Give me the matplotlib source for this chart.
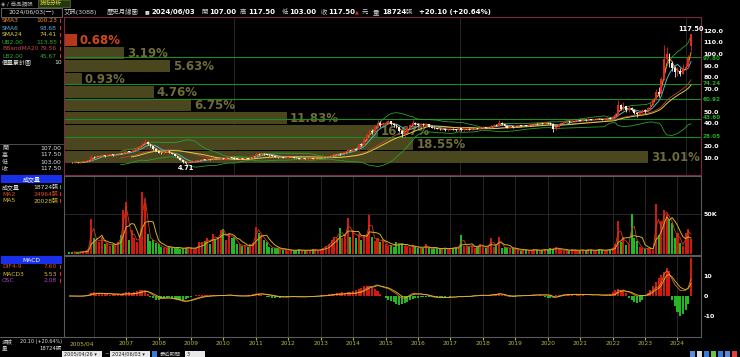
import numpy as np
import pandas as pd
import matplotlib
matplotlib.use("Agg")
import matplotlib.pyplot as plt
from matplotlib.patches import Rectangle

plt.rcParams['font.family'] = ['DejaVu Sans', 'Noto Sans CJK TC']

W, H = 740, 357

# ---- monthly data 2005/04 .. 2024/06 ----
closes = [
    6.2, 6.0, 6.1, 5.9, 6.0, 6.2, 6.8, 7.6, 10.8,                          # 2005
    10.4, 11.2, 11.6, 12.0, 11.4, 12.2, 12.8, 12.3, 13.0, 13.6, 13.2, 14.5,  # 2006
    15.5, 15.0, 16.0, 17.0, 18.5, 19.8, 22.5, 24.0, 21.5, 19.8, 17.5, 16.2,  # 2007
    14.5, 14.0, 15.0, 15.5, 14.2, 13.0, 11.5, 10.0, 8.2, 6.0, 5.2, 6.0,      # 2008
    6.5, 6.8, 7.5, 8.0, 8.5, 8.2, 8.8, 8.5, 9.0, 8.8, 9.2, 9.5,              # 2009
    9.3, 9.8, 10.5, 10.0, 9.2, 9.0, 9.4, 9.2, 9.6, 9.3, 10.0, 11.5,          # 2010
    13.5, 12.8, 13.6, 12.8, 12.5, 12.0, 11.8, 10.8, 10.2, 10.5, 9.8, 10.0,   # 2011
    10.2, 10.5, 10.0, 9.6, 9.2, 9.4, 9.0, 9.3, 9.5, 9.2, 9.4, 9.6,           # 2012
    9.8, 10.2, 10.5, 11.0, 12.0, 12.8, 13.5, 13.0, 14.0, 15.2, 16.5, 16.0,   # 2013
    17.5, 17.0, 21.5, 20.8, 26.0, 30.0, 33.5, 32.5, 37.0, 40.5, 38.0, 39.5,  # 2014
    40.0, 41.5, 39.0, 38.0, 36.5, 33.0, 31.0, 32.5, 36.0, 38.5, 40.5, 39.0,  # 2015
    38.5, 39.5, 38.0, 39.0, 37.0, 36.0, 35.5, 35.0, 34.5, 35.0, 34.0, 34.5,  # 2016
    35.0, 34.5, 34.0, 35.5, 33.8, 34.5, 35.0, 34.2, 35.0, 35.8, 35.2, 36.0,  # 2017
    36.5, 35.8, 36.2, 37.0, 38.5, 37.8, 40.5, 39.0, 37.5, 36.0, 37.0, 36.8,  # 2018
    37.5, 38.0, 37.6, 38.2, 37.8, 38.5, 39.0, 39.5, 39.2, 40.0, 39.6, 40.2,  # 2019
    40.0, 39.5, 34.5, 37.0, 39.5, 40.5, 41.0, 41.5, 41.0, 41.8, 42.0, 42.5,  # 2020
    42.2, 43.0, 42.5, 43.5, 42.8, 43.2, 44.0, 43.6, 43.0, 43.8, 44.5, 44.0,  # 2021
    45.0, 47.0, 55.5, 52.0, 54.5, 51.0, 53.0, 51.0, 49.0, 48.0, 50.0, 51.0,  # 2022
    50.5, 53.0, 57.0, 60.5, 67.0, 65.5, 78.0, 96.0, 100.0, 92.0, 88.0, 84.0, # 2023
    85.5, 83.0, 88.0, 89.0, 97.4, 117.5,                                     # 2024
]
highs = [
    6.6, 6.4, 6.4, 6.3, 6.3, 6.5, 7.2, 8.2, 12.5,
    11.8, 11.8, 12.3, 12.8, 12.6, 12.8, 13.5, 13.3, 13.6, 14.3, 14.0, 15.2,
    16.5, 16.2, 16.6, 17.8, 19.2, 20.8, 23.8, 26.0, 24.8, 22.3, 20.2, 18.0,
    16.5, 15.2, 15.6, 16.3, 15.8, 14.5, 13.2, 11.8, 10.2, 8.4, 6.3, 6.3,
    6.8, 7.2, 7.8, 8.4, 8.9, 8.9, 9.2, 9.1, 9.4, 9.3, 9.5, 9.9,
    9.9, 10.2, 11.2, 10.8, 10.2, 9.5, 9.7, 9.6, 9.9, 9.8, 10.4, 12.0,
    15.0, 14.2, 14.3, 14.0, 13.2, 12.8, 12.4, 12.0, 11.0, 11.0, 10.8, 10.4,
    10.6, 10.9, 10.7, 10.2, 9.8, 9.7, 9.6, 9.6, 9.8, 9.7, 9.6, 9.9,
    10.1, 10.5, 10.9, 11.4, 12.6, 13.5, 14.2, 13.9, 14.6, 16.0, 17.5, 17.0,
    18.5, 18.4, 22.5, 22.8, 27.0, 31.5, 35.0, 34.8, 38.5, 42.5, 41.5, 41.0,
    41.5, 43.0, 42.0, 40.0, 39.0, 37.5, 34.0, 33.5, 37.0, 39.5, 42.5, 41.0,
    40.0, 40.2, 40.0, 39.8, 39.5, 37.8, 36.8, 36.2, 35.6, 35.8, 35.4, 35.2,
    35.6, 35.5, 35.0, 36.2, 36.0, 35.0, 35.6, 35.5, 35.5, 36.4, 36.2, 36.6,
    37.2, 36.8, 36.8, 38.5, 39.2, 39.0, 42.5, 41.0, 39.5, 38.0, 37.6, 37.5,
    38.0, 38.5, 38.4, 38.8, 38.6, 39.0, 39.6, 40.2, 40.0, 40.5, 40.3, 40.8,
    41.0, 40.6, 40.0, 37.8, 40.2, 41.2, 41.8, 42.2, 42.0, 42.4, 42.6, 43.0,
    43.2, 43.6, 43.5, 44.2, 44.0, 43.8, 44.6, 44.6, 44.0, 44.3, 45.2, 45.0,
    46.0, 48.5, 60.0, 57.0, 58.0, 55.0, 54.5, 54.0, 52.0, 50.0, 51.0, 52.5,
    52.5, 54.0, 58.0, 62.0, 70.0, 71.0, 80.0, 108.0, 106.0, 101.0, 94.0, 90.0,
    89.0, 88.0, 91.0, 92.0, 99.0, 117.5,
]
lows = [
    5.9, 5.8, 5.8, 5.7, 5.7, 5.9, 6.1, 6.7, 7.4,
    9.8, 10.1, 10.8, 11.2, 11.0, 11.2, 12.0, 11.9, 12.1, 12.8, 12.9, 13.0,
    14.2, 14.6, 14.8, 15.8, 16.8, 18.0, 19.5, 21.8, 21.0, 19.0, 17.0, 15.5,
    13.8, 13.5, 13.6, 14.8, 14.0, 12.8, 11.2, 9.6, 7.8, 5.6, 4.71, 5.0,
    5.8, 6.3, 6.6, 7.3, 7.8, 8.0, 8.0, 8.3, 8.4, 8.6, 8.6, 9.0,
    9.0, 9.2, 9.7, 9.8, 9.0, 8.7, 8.9, 9.0, 9.1, 9.1, 9.2, 9.8,
    11.3, 12.4, 12.6, 12.6, 12.2, 11.8, 11.5, 10.5, 9.8, 10.0, 9.6, 9.5,
    9.7, 10.0, 9.8, 9.4, 9.0, 9.0, 8.8, 8.9, 9.2, 9.0, 9.1, 9.3,
    9.4, 9.7, 10.0, 10.3, 10.8, 11.7, 12.5, 12.6, 12.8, 13.8, 15.0, 15.5,
    15.6, 16.5, 16.8, 20.0, 20.2, 25.0, 29.0, 31.0, 32.0, 36.0, 36.5, 37.2,
    38.0, 39.5, 38.5, 37.0, 35.5, 32.0, 28.0, 27.0, 31.5, 35.0, 38.0, 38.0,
    37.5, 38.0, 37.5, 37.6, 36.5, 35.5, 35.0, 34.5, 34.0, 34.0, 33.5, 33.6,
    34.0, 34.0, 33.5, 33.6, 33.2, 33.4, 34.0, 33.8, 33.9, 34.6, 34.8, 35.0,
    35.6, 35.4, 35.5, 36.0, 36.8, 37.2, 37.5, 38.5, 37.0, 35.5, 35.6, 36.2,
    36.4, 37.2, 37.2, 37.3, 37.4, 37.6, 38.2, 38.7, 38.8, 39.0, 39.3, 39.4,
    39.2, 38.8, 32.5, 34.0, 36.6, 39.0, 40.0, 40.6, 40.5, 40.8, 41.4, 41.6,
    41.6, 41.8, 42.0, 42.2, 42.4, 42.5, 43.0, 43.2, 42.5, 42.8, 43.5, 43.6,
    43.5, 44.5, 46.5, 51.0, 51.5, 50.0, 50.0, 50.5, 48.0, 45.5, 47.0, 49.0,
    49.0, 50.0, 52.5, 56.0, 60.0, 63.0, 65.0, 77.0, 93.0, 89.0, 85.0, 80.0,
    80.5, 81.0, 82.5, 86.0, 88.0, 103.0,
]
first_open = 6.3
last_open = 107.0

# volume, thousands of lots
volume = [
    2.5, 2.0, 3.0, 2.0, 2.5, 3.0, 4.0, 6.0, 44,
    20, 18, 15, 21, 12, 14, 10, 13, 11, 15, 24, 55,
    65, 18, 30, 20, 15, 22, 78, 64, 25, 17, 18, 14,
    12, 9, 8, 7, 10, 8, 7, 9, 6, 7, 8, 9,
    7, 6, 8, 15, 14, 16, 20, 13, 25, 18, 22, 30,
    31, 18, 26, 20, 22, 13, 12, 10, 11, 9, 12, 14,
    34, 27, 24, 18, 15, 9, 8, 7, 8, 6, 5, 6,
    4, 5, 4, 5, 6, 4, 5, 4, 5, 6, 5, 4,
    6, 8, 10, 12, 18, 22, 20, 33, 20, 25, 45, 22,
    30, 20, 25, 18, 24, 24, 49, 22, 17, 20, 15, 18,
    12, 10, 11, 9, 15, 12, 14, 10, 9, 8, 11, 9,
    8, 7, 8, 12, 7, 6, 8, 7, 6, 7, 8, 6,
    7, 8, 9, 8, 24, 10, 10, 9, 11, 8, 10, 13,
    9, 8, 10, 20, 9, 11, 22, 8, 9, 7, 8, 7,
    6, 5, 4, 6, 5, 4, 5, 6, 5, 4, 5, 6,
    5, 7, 6, 9, 6, 5, 4, 5, 4, 6, 5, 4,
    5, 5, 4, 6, 5, 4, 5, 6, 5, 4, 5, 6,
    8, 12, 42, 15, 22, 11, 13, 50, 20, 17, 9, 7,
    6, 8, 7, 5, 63, 24, 41, 55, 51, 43, 39, 20,
    27, 13.5, 9.712, 27.0, 31.204, 18.724,
]

# MACD histogram bars as drawn
osc_bars = [
    0.1, 0, 0.1, 0, 0, 0.1, 0.3, 0.6,
    1.5, 1.8, 1.2, 1.0, 0.8, 0.9, 1.0, 0.7, 0.9, 1.1, 0.8, 1.2, 1.5,
    1.8, 2.0, 1.6, 2.0, 2.4, 2.8, 3.0, 2.6,
    1.2, -0.4, -1.2, -1.8, -2.0, -1.6, -1.2, -0.8, -0.6, -0.9, -1.4, -1.9, -2.2, -2.0, -1.6, -1.0,
    -0.4, 0.2, 0.5, 0.7, 0.6, 0.4, 0.5, 0.3, 0.4, 0.2, 0.3, 0.5, 0.6, 0.4,
    0.1, -0.2, -0.1, 0.0, -0.2, 0.1, 0.2, 0.3, 0.6, 0.9, 1.2, 1.0, 0.6,
    0.2, -0.3, -0.6, -0.8, -0.9, -0.7, -0.8, -0.6, -0.4, -0.3, -0.2, -0.3, -0.2,
    -0.1, -0.2, -0.1, 0.0, 0.1, 0.0, 0.1, 0.2, 0.3, 0.4, 0.6, 0.8,
    1.0, 1.2, 1.3, 1.5, 1.8, 1.6, 1.9, 2.2, 2.6, 3.0, 3.5, 4.2, 4.8, 5.0, 4.6, 4.2, 3.5, 2.5,
    1.2, 0.2, -0.8, -1.8, -2.5, -3.2, -3.8, -4.5, -4.2, -3.5, -2.8, -2.0, -1.5, -1.2, -0.9, -0.6,
    -0.4, -0.3, -0.4, -0.5, -0.6, -0.5, -0.4, -0.3, -0.3, -0.2,
    -0.3, -0.2, -0.1, 0.1, -0.1, -0.2, 0.0, 0.1, 0.2, 0.1,
    0.2, 0.3, 0.2, 0.1, 0.3, 0.5, 0.6, 0.8, 0.9, 0.6,
    0.3, 0.0, -0.3, -0.4, -0.3, -0.2, -0.1, 0.0, 0.1, 0.2,
    0.2, 0.3, 0.2, 0.3, 0.2, -0.6, -1.2, -0.8, -0.2, 0.3,
    0.5, 0.6, 0.6, 0.5, 0.4, 0.3, 0.2, 0.3, 0.4, 0.3,
    0.2, 0.1, 0.2, 0.1, 0.0, 0.1, 0.2, 0.3,
    0.5, 1.0, 1.8, 2.8, 3.5, 3.2, 2.6, 1.5,
    -0.8, -1.8, -2.8, -3.5, -3.2, -2.0,
    0.6, 1.5, 3.0, 5.0, 7.0, 9.0, 10.5, 12.0, 14.0, 12.5,
    -2.0, -5.0, -8.0, -10.0, -9.0, -7.0, -4.0,
    19.0,
]

# price-volume distribution (top band first)
profile_pct = [0.68, 3.19, 5.63, 0.93, 4.76, 6.75, 11.83, 16.67, 18.55, 31.01]
price_low, price_high = 4.71, 117.50
levels = [97.80, 74.24, 60.92, 43.60, 28.05]
level_nudge = [-2.1, 0.0, 0.0, 1.45, 0.0]   # label offsets, price units
price_ticks = [10, 20, 40, 50, 70, 80, 90, 100, 110, 120]

year_labels = ['2007', '2008', '2009', '2010', '2011', '2012', '2013', '2014', '2015',
               '2016', '2017', '2018', '2019', '2020', '2021', '2022', '2023', '2024']

n = len(closes)
assert len(highs) == n and len(lows) == n and len(volume) == n and len(osc_bars) == n
idx = np.arange(n)
c = np.array(closes)
o = np.array([first_open] + closes[:-1])
o[-1] = last_open
hi = np.array(highs)
lo = np.array(lows)
vol = np.array(volume)
prev = np.array([first_open] + closes[:-1])

s = pd.Series(c)
sma3 = s.rolling(3).mean()
sma6 = s.rolling(6).mean()
sma24 = s.rolling(24).mean()
mid = s.rolling(20).mean()
sd = s.rolling(20).std(ddof=0)
ub, lb = mid + 2 * sd, mid - 2 * sd
vs = pd.Series(vol)
vma2 = vs.rolling(2).mean()
vma5 = vs.rolling(5).mean()
dif = s.ewm(span=4, adjust=False).mean() - s.ewm(span=9, adjust=False).mean()
sig = dif.ewm(span=3, adjust=False).mean()

RED = '#e8281e'
GRN = '#22b822'
GRID = '#2c2c2c'

fig = plt.figure(figsize=(W / 100, H / 100), dpi=100, facecolor='black')
bg = fig.add_axes([0, 0, 1, 1])
bg.set_xlim(0, W)
bg.set_ylim(H, 0)
bg.axis('off')


def panel(top, bottom):
    a = fig.add_axes([64 / W, 1 - bottom / H, 637 / W, (bottom - top) / H])
    a.set_facecolor('black')
    a.set_xlim(-2.0, 233.7)
    return a


years = [9] + [21 + 12 * k for k in range(len(year_labels))]

# profile bars (behind the price panel)
axp = panel(17, 175)
axp.set_xlim(0, 33.82)
axp.set_ylim(-5.0, 132.1)
axp.axis('off')
step = (price_high - price_low) / len(profile_pct)
for k, pct in enumerate(profile_pct):
    yc = price_high - step * (k + 0.5)
    top = k == 0
    axp.barh(yc, pct, height=step * 0.9, left=0,
             color='#b4391a' if top else '#4a471e', linewidth=0)
    axp.text(pct + 0.15, yc, f'{pct:.2f}%', va='center', ha='left',
             color='#d2461e' if top else '#6f6c38', fontsize=8.5, fontweight='bold')

ax = panel(17, 175)
ax.patch.set_visible(False)
ax.set_ylim(-5.0, 132.1)
for yv, dy in zip(levels, level_nudge):
    ax.axhline(yv, color='#1f8a1f', lw=0.8, zorder=1)
    ax.text(1.003, yv + dy, f'{yv:.2f}', transform=ax.get_yaxis_transform(),
            color='#22b022', fontsize=4.1, va='center', ha='left', fontweight='bold')

ax.plot(idx, ub, color='#2e9e2e', lw=0.6, zorder=2)
ax.plot(idx, lb, color='#2e9e2e', lw=0.6, zorder=2)
ax.plot(idx, mid, color='#c04040', lw=0.6, zorder=2)
ax.plot(idx, sma24, color='#d8d040', lw=0.7, zorder=2)
ax.plot(idx, sma6, color='#4db8c8', lw=0.7, zorder=2)
ax.plot(idx, sma3, color='#ff8c1a', lw=0.7, zorder=2)

up = c >= o
ax.vlines(idx, lo, hi, colors=np.where(up, RED, '#e8e8e8'), lw=0.6, zorder=3)
ax.bar(idx, np.maximum(np.abs(c - o), 0.35), bottom=np.minimum(o, c), width=0.62,
       color=np.where(up, RED, '#f2f2f2'), linewidth=0, zorder=3)

imax = int(np.argmax(hi))
imin = int(np.argmin(lo))
ax.text(imax, hi[imax] + 1.5, f'{hi[imax]:.2f}', color='white', fontsize=4.8,
        ha='center', va='bottom', fontweight='bold')
ax.text(imin, lo[imin] - 1.2, f'{lo[imin]:.2f}', color='white', fontsize=4.8,
        ha='center', va='top', fontweight='bold')

ax.yaxis.tick_right()
ax.set_yticks(price_ticks)
ax.set_yticklabels([f'{v:.1f}' for v in price_ticks])
ax.set_xticks([])

# volume
axv = panel(176, 255)
axv.set_ylim(-1.26, 98.3)
vup = c >= prev
axv.bar(idx, vol, width=0.75, color=np.where(vup, '#d01a10', GRN), linewidth=0, zorder=2)
axv.plot(idx, vma2, color='#c8401a', lw=0.6, zorder=3)
axv.plot(idx, vma5, color='#c8b428', lw=0.7, zorder=3)
axv.axhline(50, color=GRID, lw=0.6, zorder=0)
axv.yaxis.tick_right()
axv.set_yticks([50])
axv.set_yticklabels(['50K'])
axv.set_xticks([])

# MACD
axm = panel(256, 337)
axm.set_ylim(-20.5, 20)
ob = np.array(osc_bars)
axm.bar(idx, ob, width=0.75, color=np.where(ob >= 0, '#d01a10', GRN), linewidth=0, zorder=2)
axm.plot(idx, dif, color='#e07020', lw=0.6, zorder=3)
axm.plot(idx, sig, color='#d8c030', lw=0.6, zorder=3)
axm.yaxis.tick_right()
axm.set_yticks([10, 0, -10])
axm.set_yticklabels(['10', '0', '-10'])
axm.set_xticks(years[1:])
axm.set_xticklabels([])
axm.tick_params(axis='x', length=2, color='#b8b83a')
xt = axm.get_xaxis_transform()
axm.text(0, -0.085, '2005/04', transform=xt, ha='left', va='center', color='#b8b83a', fontsize=4.2)
for m, lab in zip(years[1:], year_labels):
    axm.text(m, -0.085, lab, transform=xt, ha='center', va='center', color='#b8b83a', fontsize=4.2)

for a in (axp, axv, axm):
    for m in years:
        a.axvline(m, color=GRID, lw=0.6, zorder=0)

for a in (ax, axv, axm):
    a.tick_params(axis='y', length=0, pad=2, labelsize=4.6, labelcolor='white')
    for lab in a.get_yticklabels():
        lab.set_fontweight('bold')
for sp in ax.spines.values():
    sp.set_color('#7a2848')
    sp.set_linewidth(0.8)
for a in (axv, axm):
    for sp in a.spines.values():
        sp.set_color('#5a5a5a')
        sp.set_linewidth(0.8)


# ---- header and left info panel (pixel coordinates) ----
def t(x, y, s, color='#d0d0d0', size=4.6, ha='left', bold=False):
    bg.text(x, y, s, color=color, fontsize=size, ha=ha, va='center',
            fontweight='bold' if bold else 'normal')


t(1, 3.5, '◈ / 商品類股', color='#b0b0b0', size=4.0)
bg.add_patch(Rectangle((38, 0), 32, 7, facecolor='#1f3a12', edgecolor='#6a6a2a', lw=0.5))
t(40, 3.5, '技術分析', color='#e8d83a', size=4.0)
bg.add_patch(Rectangle((1, 8), 61, 9, facecolor='black', edgecolor='#8a8a8a', lw=0.5))
t(31.5, 12.5, '2024/06/03(一)', color='#d8d8d8', size=4.4, ha='center')

t(64, 12, '艾訊(3088)', size=4.6)
t(107, 12, '歷史月線圖', size=4.6)
t(145, 12, '■', size=3.6)
t(151, 12, '2024/06/03', color='white', size=5, bold=True)
hdr = [(201, '開', 209, '107.00'), (240, '高', 248, '117.50'),
       (282, '低', 289, '103.00'), (321, '收', 328, '117.50')]
for x1, k, x2, v in hdr:
    t(x1, 12, k, size=4.6)
    t(x2, 12, v, color='white', size=5, bold=True)
t(355, 12, '▲', color=RED, size=3.6)
t(362, 12, '元', size=4.6)
t(373, 12, '量', size=4.6)
t(382, 12, '18724', color='white', size=5, bold=True)
t(406, 12, '張', size=4.6)
t(419, 12, '+20.10 (+20.64%)', color='white', size=5, bold=True)

rows = [('SMA3', '100.23', '#ff8c1a'), ('SMA6', '93.68', '#5aaee0'),
        ('SMA24', '74.41', '#d8d040'), ('UB2.00', '113.85', '#2ea82e'),
        ('BBandMA20', '79.56', '#c84040'), ('LB2.00', '45.67', '#2ea82e')]
for k, (name, val, col) in enumerate(rows):
    y = 21 + 7 * k
    t(2, y, name, color=col, size=4.3)
    t(57, y, val, color=col, size=4.3, ha='right')
    bg.add_patch(Rectangle((59.5, y - 2), 1.6, 4, facecolor=RED, lw=0))
t(2, 63, '價量累計圖', color='#e0e0e0', size=4.3)
t(62, 63, '10', color='#e0e0e0', size=4.3, ha='right')

bg.plot([0, 63], [144, 144], color='#6a6a6a', lw=0.5)
for k, (name, val) in enumerate([('開', '107.00'), ('高', '117.50'), ('低', '103.00'), ('收', '117.50')]):
    y = 148 + 7 * k
    t(2, y, name, size=4.3)
    t(61, y, val, color='#e0e0e0', size=4.3, ha='right')

bg.plot([63.5, 63.5], [17, 337], color='#8a8a8a', lw=0.5)

bg.add_patch(Rectangle((1, 175), 61, 8, facecolor='#1830e8', lw=0))
t(31.5, 179, '成交量', color='white', size=4.3, ha='center')
vrows = [('成交量', '18724張', '#e0e0e0', GRN), ('MA2', '24964張', '#e0501a', RED),
         ('MA5', '20028張', '#d8c030', RED)]
for k, (name, val, col, mk) in enumerate(vrows):
    y = 187 + 7 * k
    t(2, y, name, color=col, size=4.3)
    t(58, y, val, color=col, size=4.3, ha='right')
    bg.add_patch(Rectangle((59.5, y - 2), 1.6, 4, facecolor=mk, lw=0))

bg.add_patch(Rectangle((1, 256), 61, 8, facecolor='#1830e8', lw=0))
t(31.5, 260, 'MACD', color='white', size=4.3, ha='center')
mrows = [('DIF4-9', '7.60', '#e0501a'), ('MACD3', '5.53', '#d8c030'), ('OSC', '2.08', '#b040c0')]
for k, (name, val, col) in enumerate(mrows):
    y = 267 + 7 * k
    t(2, y, name, color=col, size=4.3)
    t(57, y, val, color=col, size=4.3, ha='right')
    bg.add_patch(Rectangle((59.5, y - 2), 1.6, 4, facecolor=RED, lw=0))

bg.plot([0, 63], [337, 337], color='#8a8a8a', lw=0.5)
t(2, 341, '漲跌', size=4.0)
t(62, 341, '20.10 (+20.64%)', color='#e0e0e0', size=3.5, ha='right')
t(2, 348, '量', size=4.0)
t(62, 348, '18724張', color='#e0e0e0', size=3.8, ha='right')

# bottom toolbar
bg.add_patch(Rectangle((62, 351), 40, 6, facecolor='#e8e8e8', lw=0))
t(64, 354, '2005/04/26 ▾', color='#202020', size=3.6)
t(104, 354, '~', size=4)
bg.add_patch(Rectangle((110, 351), 40, 6, facecolor='#e8e8e8', lw=0))
t(112, 354, '2024/06/03 ▾', color='#202020', size=3.6)
bg.add_patch(Rectangle((152, 351), 5, 6, facecolor='#3a7ad8', lw=0))
t(160, 354, '最近期間', color='#c0c0c0', size=3.8)
bg.add_patch(Rectangle((185, 351), 20, 6, facecolor='#e8e8e8', lw=0))
t(187, 354, '3', color='#202020', size=3.6)
for k, col in enumerate(['#5a8ad8', '#e0e0e0', '#3a7ad8', '#70c040', '#3a7ad8', '#5a8ad8', '#e04040']):
    bg.add_patch(Rectangle((690 + 7 * k, 351), 5, 5.5, facecolor=col, lw=0))

fig.savefig('out.png', dpi=100, facecolor='black')
